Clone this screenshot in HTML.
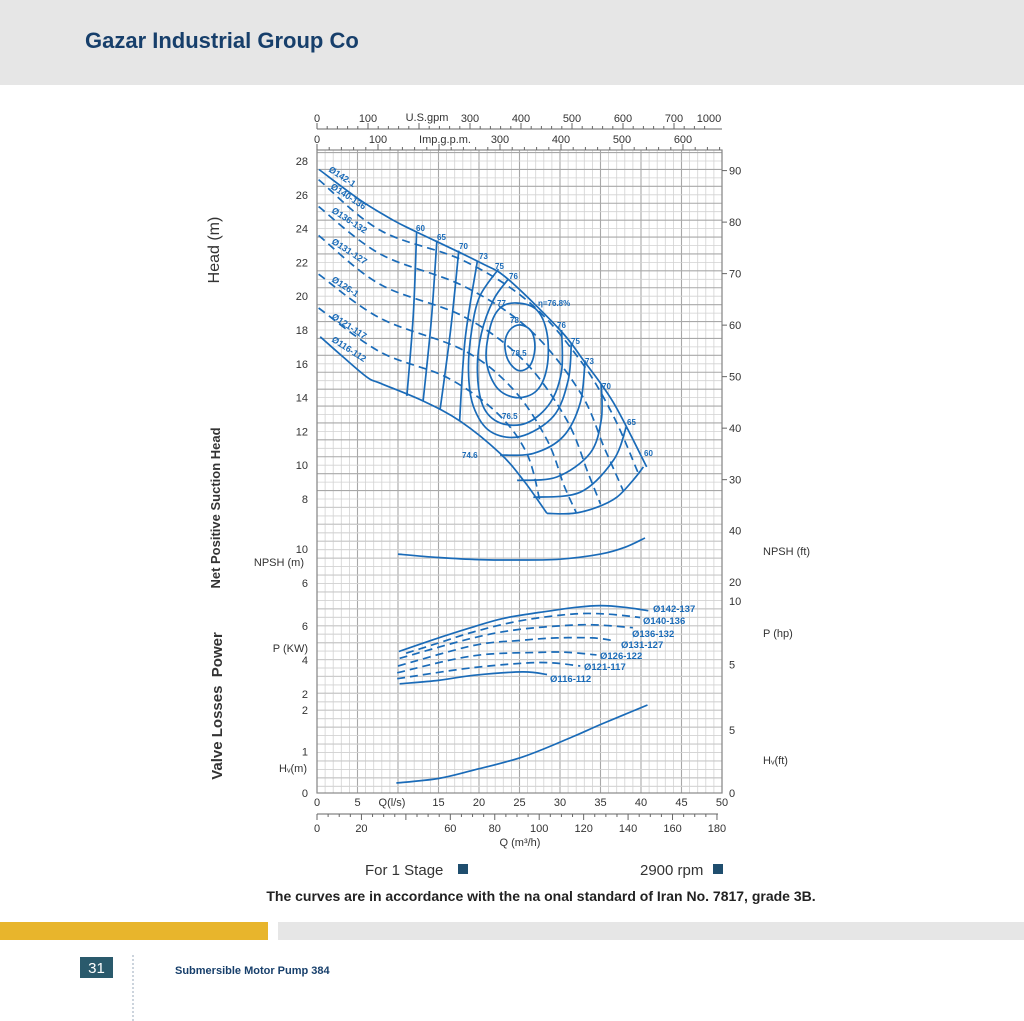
<!DOCTYPE html>
<html><head><meta charset="utf-8"><style>
body{margin:0;background:#fff;}
svg{display:block;font-family:"Liberation Sans",sans-serif;}
</style></head><body>
<svg id="pg" width="1024" height="1021" viewBox="0 0 1024 1021" xmlns="http://www.w3.org/2000/svg">
<rect x="0" y="0" width="1024" height="85" fill="#e6e6e6"/>
<text x="85" y="48" font-size="22" font-weight="bold" fill="#173f6b">Gazar Industrial Group Co</text>
<g id="grid"></g>
<g id="axes"></g>
<g id="curves"></g>
<g id="labels" font-size="10" fill="#333"></g>
<text transform="translate(219,250) rotate(-90)" text-anchor="middle" font-size="16" fill="#333">Head (m)</text>
<text transform="translate(220,508) rotate(-90)" text-anchor="middle" font-size="13" font-weight="bold" fill="#333">Net Positive Suction Head</text>
<text transform="translate(222,706) rotate(-90)" text-anchor="middle" font-size="15" font-weight="bold" fill="#333" xml:space="preserve">Valve Losses  Power</text>
<text x="365" y="875" font-size="15" fill="#333">For 1 Stage</text>
<rect x="458" y="864" width="10" height="10" fill="#1f4e6e"/>
<text x="640" y="875" font-size="15" fill="#333">2900 rpm</text>
<rect x="713" y="864" width="10" height="10" fill="#1f4e6e"/>
<text x="541" y="901" text-anchor="middle" font-size="14" font-weight="bold" fill="#222">The curves are in accordance with the na onal standard of Iran No. 7817, grade 3B.</text>
<rect x="0" y="922" width="268" height="18" fill="#e8b52c"/>
<rect x="278" y="922" width="746" height="18" fill="#e6e6e6"/>
<rect x="80" y="957" width="33" height="21" fill="#2a5a6c"/>
<text x="96.5" y="973" text-anchor="middle" font-size="15" fill="#fff">31</text>
<line x1="133" y1="955" x2="133" y2="1021" stroke="#9ab" stroke-dasharray="2,2"/>
<text x="175" y="974" font-size="11" font-weight="bold" fill="#173f6b">Submersible Motor Pump 384</text>
</svg>
<script>
// ---- data ----
const head142=[[0.25,27.5],[5.3,25.7],[9.4,24.5],[12.3,23.8],[20.1,22.0],[23.6,21.0],[30.0,18.0],[32.9,16.2],[36.6,13.7],[40.7,9.9]];
const head140=[[0.2,26.9],[7.8,23.9],[18.1,22.1],[26.3,19.6],[32.5,16.2],[36.6,12.9],[39.6,9.6]];
const head136=[[0.2,25.3],[7.8,22.5],[18.1,20.6],[26.3,18.0],[32.5,14.3],[35.5,11.0],[37.8,8.5]];
const head131=[[0.2,23.6],[7.8,20.7],[18.1,18.8],[25.5,16.2],[30.8,12.7],[33.5,9.5],[35.0,7.7]];
const head126=[[0.2,21.3],[7.8,18.7],[18.1,16.8],[24.2,14.5],[28.4,11.5],[30.5,8.8],[32.0,7.2]];
const head121=[[0.2,19.3],[7.8,16.7],[16.0,15.2],[22.2,13.1],[25.9,10.7],[27.6,7.7]];
const head116=[[0.4,17.6],[3,16.5],[6.2,15.2],[7.8,14.85],[13.1,13.8],[17.7,12.6],[22.6,10.7],[25.5,9.1],[28.4,7.15]];
const headBottom=[[28.4,7.15],[31.6,7.15],[34.5,7.5],[37.0,8.1],[39.0,9.1],[40.3,9.9]];
const eff60=[[12.3,23.8],[11.9,19.0],[11.1,14.1]];
const eff65=[[14.8,23.3],[14.1,18.5],[13.1,13.8]];
const eff70=[[17.5,22.7],[16.5,18.0],[15.2,13.3]];
const eff73=[[19.8,22.1],[18.3,17.5],[17.6,12.6]];
const eff75=[[22.4,21.6],[20.1,20.0],[19.1,18.0],[18.7,15.6],[19.3,13.5],[21.4,12.0],[25.1,11.7],[29.2,12.9],[31.0,15.0],[31.4,17.2]];
const eff76=[[23.6,21.0],[21.8,19.8],[20.3,17.8],[19.8,15.6],[20.5,13.5],[22.6,12.5],[25.9,12.5],[28.8,13.7],[30.2,15.6],[30.2,18.0]];
const eff77=[[24.6,19.6],[27.1,19.2],[28.4,17.8],[28.4,15.8],[27.1,14.4],[24.6,14.0],[22.2,14.6],[20.9,16.2],[21.4,18.2],[22.6,19.3]];
const eff78=[[25.1,18.3],[26.5,17.9],[26.9,16.9],[26.3,15.9],[24.9,15.6],[23.6,16.2],[23.2,17.2],[23.8,18.0]];
const arc73=[[22.6,10.6],[26.7,10.7],[30.4,11.7],[32.5,13.7],[33.1,16.2]];
const arc70=[[24.7,9.1],[29.6,9.3],[33.7,10.7],[35.1,12.7],[35.1,14.8]];
const arc65=[[26.7,8.1],[32.5,8.4],[36.6,10.3],[38.2,12.3]];
const npsh=[[10,9.4],[15,9.0],[20,8.75],[25,8.7],[30,8.8],[35,9.4],[38,10.2],[40.5,11.3]];
const pow142=[[10.1,4.5],[15,5.3],[19.3,5.95],[23,6.45],[27.5,6.8],[32,7.1],[35,7.2],[38,7.1],[40.9,6.9]];
const pow140=[[11,4.4],[15,5.0],[19.3,5.65],[25,6.3],[31.5,6.7],[35.8,6.7],[39.9,6.5]];
const pow136=[[10.2,4.1],[19.3,5.3],[25,5.8],[31.5,6.05],[35,6.05],[39,5.9]];
const pow131=[[10,3.65],[19.3,4.85],[25,5.15],[29.6,5.3],[34,5.3],[36.5,5.15]];
const pow126=[[9.9,3.25],[19.3,4.25],[27.5,4.45],[31,4.45],[34.5,4.3]];
const pow121=[[9.9,2.9],[19.3,3.55],[27.5,3.85],[32.5,3.65]];
const pow116=[[10.2,2.6],[15,2.8],[19.3,3.1],[25.4,3.3],[28.4,3.15]];
const hv=[[9.8,0.24],[15,0.35],[19.3,0.55],[25.4,0.87],[31.5,1.35],[35,1.65],[40.8,2.12]];
const headTicks=[28,26,24,22,20,18,16,14,12,10,8];
const headFtTicks=[90,80,70,60,50,40,30];
const qTicks=[0,5,15,20,25,30,35,40,45,50];
const m3hTicks=[0,20,60,80,100,120,140,160,180];
const gpmTicks=[0,100,300,400,500,600,700];
const impTicks=[0,100,300,400,500,600];
const powLabels=["Ø142-137","Ø140-136","Ø136-132","Ø131-127","Ø126-122","Ø121-117","Ø116-112"];

// ---- scales ----
const X=q=>317+q*8.1, Yh=h=>499-(h-8)*16.9, Yn=n=>549-(n-10)*8.5, Yp=p=>626-(p-6)*17, Yv=v=>793-v*41.5;
const NS="http://www.w3.org/2000/svg";
function mk(tag,attrs,parent){const e=document.createElementNS(NS,tag);for(const k in attrs)e.setAttribute(k,attrs[k]);parent.appendChild(e);return e;}
function smooth(pts,closed){
  const n=pts.length;let d="M"+pts[0][0].toFixed(1)+","+pts[0][1].toFixed(1);
  const P=i=>closed?pts[(i+n)%n]:pts[Math.max(0,Math.min(n-1,i))];
  const m=closed?n:n-1;
  for(let i=0;i<m;i++){const p0=P(i-1),p1=P(i),p2=P(i+1),p3=P(i+2);
    const c1=[p1[0]+(p2[0]-p0[0])/6,p1[1]+(p2[1]-p0[1])/6],c2=[p2[0]-(p3[0]-p1[0])/6,p2[1]-(p3[1]-p1[1])/6];
    d+="C"+c1.map(v=>v.toFixed(1))+" "+c2.map(v=>v.toFixed(1))+" "+p2.map(v=>v.toFixed(1));}
  return d+(closed?"Z":"");
}
const grid=document.getElementById('grid'),axes=document.getElementById('axes'),cur=document.getElementById('curves'),lab=document.getElementById('labels');
// grid
for(let q=0;q<=50;q++){const l=mk('line',{x1:X(q),y1:150,x2:X(q),y2:793,stroke:q%5==0?'#a8a8a8':'#d2d2d2','stroke-width':q%5==0?1.1:0.8},grid);

}
for(let i=0;;i++){const y=499-(i-41)*8.45;if(y<150)break;if(y>794)continue;const l=mk('line',{x1:317,y1:y,x2:722,y2:y,stroke:i%2==0?'#a8a8a8':'#d2d2d2','stroke-width':i%2==0?1.1:0.8},grid);

}
for(let y=499+8.45;y<=794;y+=8.45){const l=mk('line',{x1:317,y1:y,x2:722,y2:y,stroke:'#d2d2d2','stroke-width':0.8},grid);

}
const fr=mk('rect',{x:317,y:150,width:405,height:643,fill:'none',stroke:'#888','stroke-width':1.2},axes);


// curves
const BLUE='#1a6bb8';
function curve(pts,sy,name,dash,closed){const p=mk('path',{d:smooth(pts.map(d=>[X(d[0]),sy(d[1])]),closed),fill:'none',stroke:BLUE,'stroke-width':1.7},cur);
if(dash)p.setAttribute('stroke-dasharray','8,5');

}
curve(head142,Yh,'head-curve-142',false);curve(head140,Yh,'head-curve-140',true);curve(head136,Yh,'head-curve-136',true);
curve(head131,Yh,'head-curve-131',true);curve(head126,Yh,'head-curve-126',true);curve(head121,Yh,'head-curve-121',true);
curve(head116,Yh,'head-curve-116',false);curve(headBottom,Yh,'head-bottom-boundary',false);
curve(eff60,Yh,'eff-60',false);curve(eff65,Yh,'eff-65',false);curve(eff70,Yh,'eff-70',false);curve(eff73,Yh,'eff-73',false);
curve(eff75,Yh,'eff-75',false);curve(eff76,Yh,'eff-76',false);curve(eff77,Yh,'eff-77',false,true);curve(eff78,Yh,'eff-78',false,true);
curve(arc73,Yh,'eff-arc-73',false);curve(arc70,Yh,'eff-arc-70',false);curve(arc65,Yh,'eff-arc-65',false);
curve(npsh,Yn,'npsh-curve',false);
curve(pow142,Yp,'power-curve-142',false);curve(pow140,Yp,'power-curve-140',true);curve(pow136,Yp,'power-curve-136',true);
curve(pow131,Yp,'power-curve-131',true);curve(pow126,Yp,'power-curve-126',true);curve(pow121,Yp,'power-curve-121',true);
curve(pow116,Yp,'power-curve-116',false);curve(hv,Yv,'valve-loss-curve',false);
// text helper
function txt(s,x,y,o,name){const t=mk('text',Object.assign({x:x,y:y},o||{}),lab);t.textContent=s;

return t;}
headTicks.forEach(v=>txt(v,308,Yh(v)+4,{'text-anchor':'end','font-size':11},'head-tick'));
headFtTicks.forEach(v=>{txt(v,729,Yh(v*0.3048)+4,{'font-size':11},'head-ft-tick');const l=mk('line',{x1:722,y1:Yh(v*0.3048),x2:727,y2:Yh(v*0.3048),stroke:'#666'},axes);});
[[10,'10'],[6,'6']].forEach(a=>txt(a[1],308,Yn(a[0])+4,{'text-anchor':'end','font-size':11},'npsh-tick'));
txt('NPSH (m)',304,566,{'text-anchor':'end','font-size':11},'npsh-unit');
[40,20].forEach(v=>txt(v,729,Yn(v*0.3048)+4,{'font-size':11},'npsh-ft-tick'));
txt('NPSH (ft)',763,555,{'font-size':11},'npsh-ft-unit');
[6,4,2].forEach(v=>txt(v,308,Yp(v)+4,{'text-anchor':'end','font-size':11},'power-tick'));
txt('P (KW)',308,652,{'text-anchor':'end','font-size':11},'power-unit');
[10,5].forEach(v=>txt(v,729,Yp(v*0.7457)+4,{'font-size':11},'power-hp-tick'));
txt('P (hp)',763,637,{'font-size':11},'power-hp-unit');
[2,1,0].forEach(v=>txt(v,308,Yv(v)+4,{'text-anchor':'end','font-size':11},'hv-tick'));
txt('Hᵥ(m)',307,772,{'text-anchor':'end','font-size':11},'hv-unit');
[5,0].forEach(v=>txt(v,729,Yv(v*0.3048)+4,{'font-size':11},'hv-ft-tick'));
txt('Hᵥ(ft)',763,764,{'font-size':11},'hv-ft-unit');
qTicks.forEach(v=>txt(v,X(v),806,{'text-anchor':'middle','font-size':11},'q-tick'));
txt('Q(l/s)',392,806,{'text-anchor':'middle','font-size':11},'q-unit');
const ml=mk('line',{x1:317,y1:814,x2:718,y2:814,stroke:'#666'},axes);
for(let v=0;v<=180;v+=5){const l=mk('line',{x1:317+v*2.222,y1:814,x2:317+v*2.222,y2:v%20==0?820:817,stroke:'#666'},axes);}
m3hTicks.forEach(v=>txt(v,317+v*2.222,832,{'text-anchor':'middle','font-size':11},'m3h-tick'));
txt('Q (m³/h)',520,846,{'text-anchor':'middle','font-size':11},'m3h-unit');
const gl=mk('line',{x1:317,y1:129,x2:722,y2:129,stroke:'#666'},axes);
for(let v=0;v<=760;v+=20){const l=mk('line',{x1:317+v*0.51,y1:129,x2:317+v*0.51,y2:v%100==0?123:126,stroke:'#666'},axes);}
gpmTicks.forEach(v=>txt(v,317+v*0.51,122,{'text-anchor':'middle','font-size':11},'gpm-tick'));
txt('1000',709,122,{'text-anchor':'middle','font-size':11},'gpm-tick');
txt('U.S.gpm',427,121,{'text-anchor':'middle','font-size':11},'gpm-unit');
for(let v=0;v<=660;v+=20){const l=mk('line',{x1:317+v*0.61,y1:150,x2:317+v*0.61,y2:v%100==0?144:147,stroke:'#666'},axes);}
impTicks.forEach(v=>txt(v,317+v*0.61,143,{'text-anchor':'middle','font-size':11},'imp-tick'));
txt('Imp.g.p.m.',445,143,{'text-anchor':'middle','font-size':11},'imp-unit');
// curve labels
const hl=[["Ø142-1",328,171],["Ø140-136",330,188],["Ø136-132",331,212],["Ø131-127",331,243],["Ø126-1",331,281],["Ø121-117",331,318],["Ø116-112",331,341]];
hl.forEach(a=>txt(a[0],a[1],a[2],{'font-size':9,fill:BLUE,'font-weight':'bold',transform:`rotate(33 ${a[1]} ${a[2]})`},'head-curve-label'));
const py=[612,624,637,648,659,670,682],px=[653,643,632,621,600,584,550];
powLabels.forEach((s,i)=>txt(s,px[i],py[i],{'font-size':9.5,fill:BLUE,'font-weight':'bold'},'power-curve-label'));
const el=[["60",416,231],["65",437,240],["70",459,249],["73",479,259],["75",495,269],["76",509,279],["η=76.8%",538,306],["76",557,328],["75",571,344],["73",585,364],["70",602,389],["65",627,425],["60",644,456],["77",497,306],["78",510,323],["78.5",511,356],["76.5",502,419],["74.6",462,458]];
el.forEach(a=>txt(a[0],a[1],a[2],{'font-size':8,fill:BLUE,'font-weight':'bold'},'efficiency-label'));
</script>
</body></html>
